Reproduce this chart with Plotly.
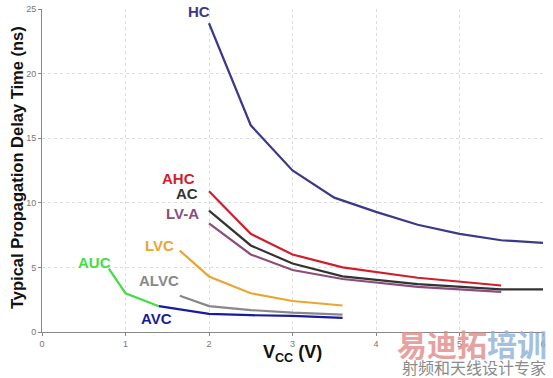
import plotly.graph_objects as go

hc_x = [2, 2.5, 3, 3.5, 4, 4.5, 5, 5.5, 6]
hc_y = [23.9, 16.0, 12.5, 10.4, 9.3, 8.3, 7.6, 7.1, 6.9]
ahc_x = [2, 2.5, 3, 3.6, 4.5, 5.5]
ahc_y = [10.9, 7.6, 6.0, 5.0, 4.2, 3.6]
ac_x = [2, 2.5, 3, 3.6, 4.5, 5.5, 6]
ac_y = [9.4, 6.7, 5.3, 4.3, 3.7, 3.3, 3.3]
lva_x = [2, 2.5, 3, 3.6, 4.5, 5.5]
lva_y = [8.4, 6.0, 4.8, 4.1, 3.5, 3.1]
lvc_x = [1.65, 2, 2.5, 3, 3.6]
lvc_y = [6.3, 4.3, 3.0, 2.4, 2.05]
alvc_x = [1.65, 2, 2.5, 3, 3.6]
alvc_y = [2.8, 2.0, 1.7, 1.5, 1.35]
auc_x = [0.8, 1.0, 1.4]
auc_y = [4.9, 3.0, 2.0]
avc_x = [1.4, 2, 2.5, 3, 3.6]
avc_y = [2.0, 1.4, 1.3, 1.25, 1.1]

x_ticks = [0, 1, 2, 3, 4, 5, 6]
y_ticks = [0, 5, 10, 15, 20, 25]

series = [
    ("HC", hc_x, hc_y, "#3a3a88", 1.88, 24.8),
    ("AHC", ahc_x, ahc_y, "#d01f2b", 1.63, 11.9),
    ("AC", ac_x, ac_y, "#333333", 1.74, 10.75),
    ("LV-A", lva_x, lva_y, "#8a4d7e", 1.68, 9.2),
    ("LVC", lvc_x, lvc_y, "#e9a630", 1.41, 6.7),
    ("ALVC", alvc_x, alvc_y, "#888888", 1.40, 3.95),
    ("AUC", auc_x, auc_y, "#44dd44", 0.63, 5.4),
    ("AVC", avc_x, avc_y, "#1a1aa0", 1.37, 1.08),
]

fig = go.Figure()
for name, xs, ys, col, lx, ly in series:
    fig.add_trace(go.Scatter(x=xs, y=ys, mode="lines", name=name,
                             line=dict(color=col, width=2.2), showlegend=False))
for name, xs, ys, col, lx, ly in series:
    fig.add_annotation(x=lx, y=ly, text="<b>%s</b>" % name, showarrow=False,
                       font=dict(family="Liberation Sans, Arial", size=15, color=col))

# axis titles (page pixels: plot spans x 42..543, y 9..332)
fig.add_annotation(xref="paper", yref="paper", x=(292 - 42) / 501, y=(332 - 354) / 323,
                   xanchor="center", yanchor="middle",
                   text="<b>V<sub>CC</sub> (V)</b>", showarrow=False,
                   font=dict(family="Liberation Sans, Arial", size=18, color="#111111"))
fig.add_annotation(xref="paper", yref="paper", x=(17 - 42) / 501, y=(332 - 168) / 323,
                   xanchor="center", yanchor="middle", textangle=-90,
                   text="<b>Typical Propagation Delay Time (ns)</b>", showarrow=False,
                   font=dict(family="Liberation Sans, Arial", size=16.5, color="#111111"))

# watermark
fig.add_annotation(xref="paper", yref="paper", x=(472 - 42) / 501, y=(332 - 343) / 323,
                   xanchor="center", yanchor="middle", opacity=0.8,
                   text='<b><span style="color:#e08a8a">易迪拓</span><span style="color:#8fb0d6">培训</span></b>',
                   showarrow=False,
                   font=dict(family="Noto Sans CJK SC", size=30))
fig.add_annotation(xref="paper", yref="paper", x=(474 - 42) / 501, y=(332 - 367) / 323,
                   xanchor="center", yanchor="middle",
                   text="射频和天线设计专家", showarrow=False,
                   font=dict(family="Noto Sans CJK SC", size=16, color="#8a8a8a"))

fig.update_layout(
    width=553, height=378,
    margin=dict(l=42, r=10, t=9, b=46, autoexpand=False),
    paper_bgcolor="white", plot_bgcolor="white",
    font=dict(family="Liberation Sans, Arial", color="#777777"),
)
fig.update_xaxes(range=[0, 6], tickvals=x_ticks, ticks="outside", ticklen=3,
                 tickcolor="#888888", tickfont=dict(size=9, color="#777777"),
                 showgrid=True, gridcolor="#dddddd", griddash="dot", gridwidth=1,
                 showline=True, linecolor="#888888", linewidth=1, zeroline=False,
                 automargin=False)
fig.update_yaxes(range=[0, 25], tickvals=y_ticks, ticks="outside", ticklen=3,
                 tickcolor="#888888", tickfont=dict(size=9, color="#777777"),
                 showgrid=True, gridcolor="#dddddd", griddash="dot", gridwidth=1,
                 showline=True, linecolor="#888888", linewidth=1, zeroline=False,
                 automargin=False)

# remove the default 8px page margin so the 553x378 figure fills the window
fig.write_html("out.html", config={"displayModeBar": False},
               post_script="document.body.style.margin='0';document.body.style.overflow='hidden';")
